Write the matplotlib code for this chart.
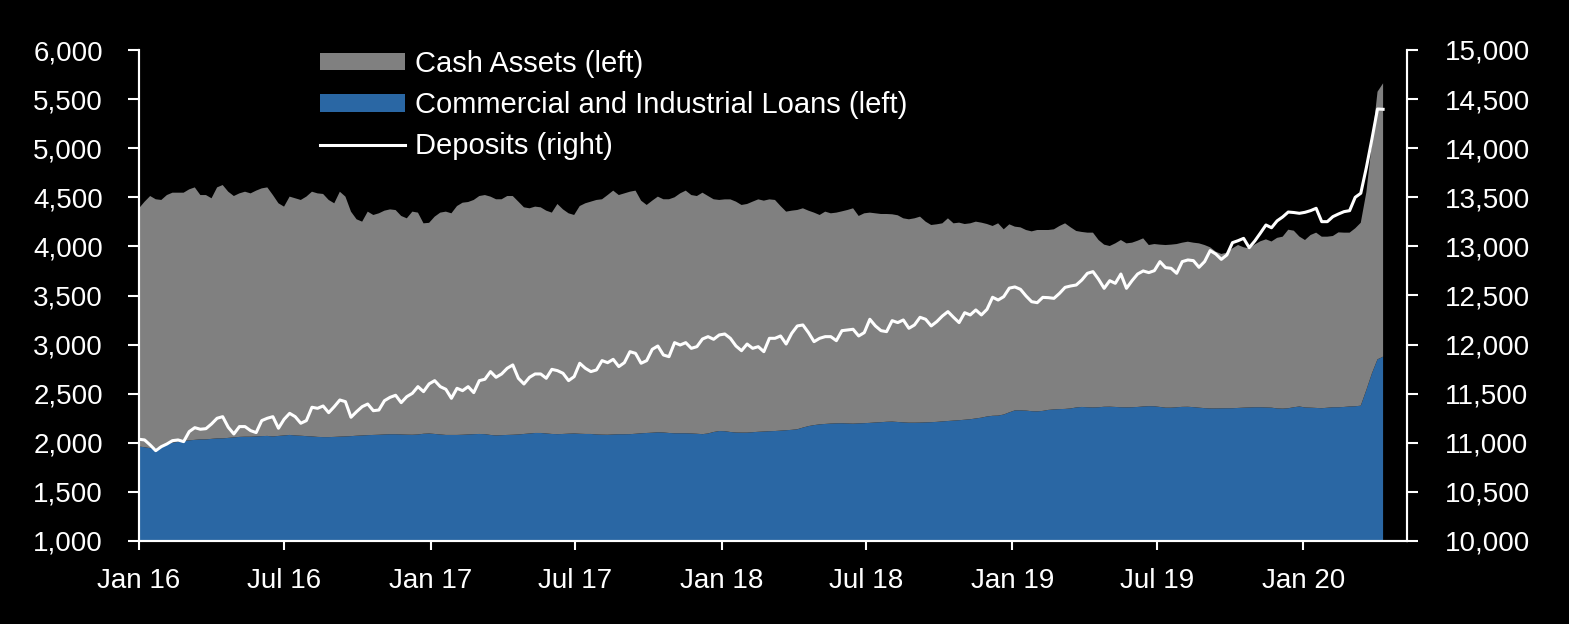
import numpy as np
import pandas as pd
import matplotlib
matplotlib.use("Agg")
import matplotlib.pyplot as plt
import matplotlib.dates as mdates
from matplotlib.ticker import FuncFormatter
from matplotlib.patches import Patch
from matplotlib.lines import Line2D

# weekly observations, Jan 2016 - Apr 2020 (USD bn)
fechas = pd.date_range("2016-01-01", periods=224, freq="7D")

# C&I loans (left axis)
loans = np.array([
    1962, 1955, 1945, 1945, 1960, 1990, 2000, 2010, 2020, 2025,
    2030, 2035, 2035, 2040, 2045, 2045, 2050, 2055, 2060, 2062,
    2062, 2065, 2068, 2070, 2065, 2070, 2075, 2080, 2075, 2072,
    2068, 2065, 2060, 2058, 2058, 2060, 2063, 2065, 2068, 2072,
    2075, 2078, 2080, 2082, 2085, 2087, 2087, 2085, 2083, 2082,
    2085, 2092, 2095, 2090, 2085, 2080, 2080, 2080, 2082, 2085,
    2088, 2090, 2088, 2080, 2075, 2078, 2080, 2082, 2085, 2090,
    2095, 2100, 2100, 2095, 2090, 2088, 2090, 2093, 2095, 2092,
    2090, 2090, 2085, 2083, 2082, 2085, 2087, 2087, 2088, 2092,
    2097, 2100, 2103, 2107, 2105, 2100, 2097, 2097, 2097, 2095,
    2092, 2088, 2095, 2110, 2120, 2118, 2110, 2105, 2104, 2104,
    2108, 2112, 2115, 2118, 2120, 2124, 2128, 2132, 2138, 2155,
    2170, 2180, 2188, 2192, 2196, 2198, 2199, 2197, 2195, 2198,
    2200, 2203, 2207, 2210, 2214, 2216, 2212, 2208, 2205, 2205,
    2206, 2208, 2210, 2213, 2218, 2222, 2226, 2230, 2235, 2240,
    2248, 2256, 2268, 2275, 2277, 2288, 2310, 2330, 2330, 2328,
    2322, 2320, 2325, 2335, 2340, 2343, 2345, 2350, 2360, 2365,
    2362, 2360, 2362, 2367, 2368, 2365, 2362, 2361, 2362, 2365,
    2370, 2373, 2372, 2365, 2358, 2358, 2362, 2366, 2367, 2363,
    2358, 2353, 2350, 2350, 2351, 2352, 2352, 2355, 2358, 2360,
    2362, 2362, 2360, 2358, 2350, 2348, 2352, 2362, 2370, 2360,
    2358, 2355, 2352, 2357, 2362, 2362, 2365, 2370, 2372, 2378,
    2538, 2707, 2850, 2877,
])

# top of the stacked cash band (loans + cash assets), left axis
stack_top = np.array([
    4388, 4455, 4513, 4480, 4473, 4523, 4547, 4547, 4547, 4581,
    4601, 4523, 4523, 4490, 4601, 4625, 4557, 4513, 4540, 4557,
    4540, 4568, 4591, 4601, 4523, 4439, 4405, 4507, 4490, 4473,
    4507, 4557, 4540, 4534, 4473, 4439, 4557, 4507, 4354, 4276,
    4252, 4354, 4320, 4337, 4364, 4377, 4370, 4310, 4286, 4354,
    4344, 4235, 4240, 4303, 4344, 4354, 4337, 4411, 4445, 4452,
    4473, 4513, 4523, 4507, 4480, 4480, 4513, 4513, 4456, 4398,
    4388, 4405, 4398, 4364, 4344, 4432, 4377, 4337, 4320, 4411,
    4439, 4456, 4473, 4480, 4523, 4568, 4523, 4540, 4557, 4568,
    4466, 4422, 4466, 4507, 4480, 4480, 4500, 4540, 4568, 4523,
    4513, 4547, 4513, 4480, 4473, 4479, 4479, 4456, 4422, 4432,
    4456, 4479, 4466, 4479, 4473, 4411, 4354, 4364, 4371, 4388,
    4364, 4344, 4320, 4354, 4337, 4344, 4357, 4371, 4388, 4310,
    4337, 4344, 4337, 4330, 4330, 4327, 4317, 4286, 4276, 4286,
    4303, 4252, 4218, 4225, 4235, 4286, 4235, 4242, 4228, 4235,
    4252, 4242, 4228, 4208, 4235, 4174, 4225, 4201, 4194, 4167,
    4153, 4167, 4167, 4167, 4174, 4208, 4235, 4194, 4157, 4147,
    4140, 4140, 4065, 4018, 4004, 4031, 4065, 4031, 4038, 4058,
    4082, 4014, 4024, 4018, 4014, 4018, 4024, 4038, 4048, 4038,
    4031, 4014, 3991, 3947, 3923, 3936, 3980, 4014, 3991, 3980,
    4020, 4052, 4072, 4050, 4087, 4099, 4170, 4160, 4100, 4065,
    4116, 4140, 4099, 4099, 4106, 4143, 4140, 4140, 4184, 4241,
    4551, 5056, 5575, 5661,
])
cash_assets = stack_top - loans

# deposits (right axis)
deposits = np.array([
    11036, 11029, 10978, 10920, 10961, 10988, 11022, 11029, 11012, 11114,
    11154, 11138, 11144, 11192, 11250, 11266, 11158, 11090, 11165, 11165,
    11124, 11104, 11226, 11250, 11266, 11148, 11239, 11300, 11266, 11199,
    11226, 11362, 11351, 11375, 11307, 11368, 11436, 11419, 11260, 11317,
    11368, 11395, 11327, 11334, 11429, 11463, 11484, 11409, 11470, 11504,
    11572, 11521, 11600, 11633, 11572, 11545, 11453, 11555, 11531, 11572,
    11511, 11633, 11647, 11725, 11667, 11701, 11759, 11793, 11657, 11599,
    11667, 11701, 11701, 11657, 11748, 11735, 11708, 11633, 11674, 11810,
    11759, 11725, 11742, 11837, 11816, 11850, 11776, 11816, 11928, 11911,
    11810, 11837, 11952, 11986, 11894, 11877, 12020, 11996, 12020, 11962,
    11979, 12057, 12081, 12054, 12098, 12108, 12064, 11986, 11938, 12006,
    11962, 11979, 11928, 12064, 12064, 12088, 12006, 12115, 12190, 12200,
    12122, 12030, 12064, 12081, 12081, 12040, 12142, 12149, 12156, 12088,
    12122, 12258, 12190, 12142, 12132, 12244, 12224, 12251, 12166, 12200,
    12278, 12258, 12190, 12234, 12291, 12336, 12278, 12224, 12325, 12302,
    12353, 12302, 12359, 12482, 12454, 12488, 12575, 12587, 12563, 12495,
    12437, 12427, 12481, 12478, 12471, 12522, 12583, 12597, 12607, 12658,
    12726, 12743, 12665, 12573, 12651, 12624, 12719, 12573, 12651, 12719,
    12750, 12733, 12753, 12845, 12784, 12777, 12726, 12845, 12862, 12855,
    12787, 12845, 12957, 12923, 12868, 12913, 13038, 13058, 13082, 12987,
    13055, 13135, 13218, 13190, 13260, 13300, 13350, 13345, 13337, 13347,
    13364, 13388, 13252, 13252, 13303, 13330, 13354, 13364, 13500, 13541,
    13802, 14094, 14399, 14396,
])

etiquetas = ["Cash Assets (left)", "Commercial and Industrial Loans (left)", "Deposits (right)"]

gris = "#808080"
azul = "#2A67A4"

plt.rcParams["font.family"] = ["Liberation Sans", "DejaVu Sans"]
plt.rcParams["font.size"] = 20

fig = plt.figure(figsize=(15.69, 6.24), dpi=100, facecolor="black")
ax = fig.add_axes([139 / 1569, 1 - 541 / 624, (1407 - 139) / 1569, (541 - 50) / 624])
ax.set_facecolor("black")

ax.stackplot(fechas, loans, cash_assets, colors=[azul, gris], linewidth=0)
ax.set_ylim(1000, 6000)
ax.set_yticks(np.arange(1000, 6001, 500))
ax.set_xlim(pd.Timestamp("2016-01-01"), pd.Timestamp("2020-05-10"))

ax2 = ax.twinx()
ax2.plot(fechas, deposits, color="white", lw=2.2)
ax2.set_ylim(10000, 15000)
ax2.set_yticks(np.arange(10000, 15001, 500))

fmt = FuncFormatter(lambda v, p: "{:,.0f}".format(v))
ax.yaxis.set_major_formatter(fmt)
ax2.yaxis.set_major_formatter(fmt)

ax.xaxis.set_major_locator(mdates.MonthLocator(bymonth=[1, 7]))
ax.xaxis.set_major_formatter(mdates.DateFormatter("%b %y"))

for a in (ax, ax2):
    for s in a.spines.values():
        s.set_color("white")
        s.set_linewidth(1.5)
    a.spines["top"].set_visible(False)
    a.tick_params(colors="white", width=1.5, labelsize=20)
ax.tick_params(axis="y", length=8, pad=18)
ax2.tick_params(axis="y", length=8, pad=19)
ax.tick_params(axis="x", length=6.5, pad=13)

leg_handles = [Patch(facecolor=gris, edgecolor="none"),
               Patch(facecolor=azul, edgecolor="none"),
               Line2D([0], [0], color="white", lw=2.2)]
leg = ax2.legend(leg_handles, etiquetas, loc="upper left",
                 bbox_to_anchor=((320 - 139) / 1268, 1.0), frameon=False,
                 fontsize=21, handlelength=2.9, handleheight=0.55,
                 handletextpad=0.35, labelspacing=0.45, borderpad=0, borderaxespad=0)
for t in leg.get_texts():
    t.set_color("white")

fig.savefig("out.png", dpi=100, facecolor="black")
